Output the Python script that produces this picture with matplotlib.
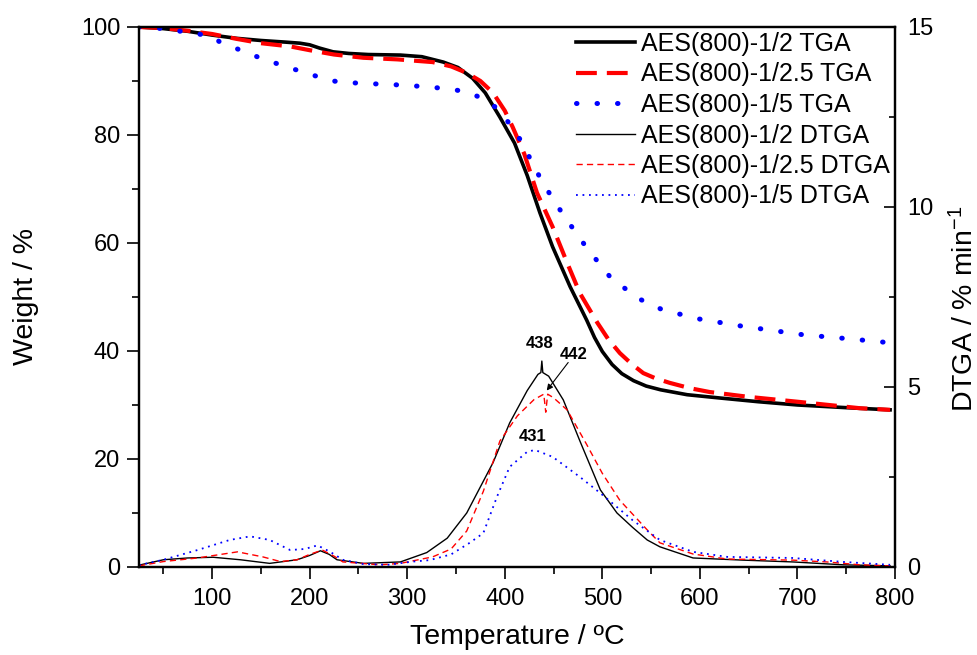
import numpy as np
import matplotlib
matplotlib.use("Agg")
import matplotlib.pyplot as plt

plt.rcParams['font.family'] = ['Liberation Sans', 'DejaVu Sans']
plt.rcParams['mathtext.fontset'] = 'custom'
plt.rcParams['mathtext.rm'] = 'Liberation Sans'
plt.rcParams['mathtext.it'] = 'Liberation Sans:italic'

# TGA curves (weight %, left axis)
t_tga_12 = [25, 50, 75, 100, 125, 150, 175, 190, 200, 210, 224, 240, 260, 293, 315, 337,
            352, 367, 380, 395, 410, 423, 436, 449, 467, 484, 492, 500, 510, 520, 532, 545,
            560, 587, 620, 660, 700, 750, 795]
w_tga_12 = [100, 99.7, 99.2, 98.5, 97.9, 97.5, 97.2, 97.0, 96.7, 96.1, 95.4, 95.1, 94.9,
            94.8, 94.5, 93.5, 92.5, 90.5, 87.8, 83.3, 78.5, 72.5, 65.6, 59.3, 51.9, 45.7,
            42.5, 39.9, 37.5, 35.8, 34.5, 33.5, 32.8, 31.9, 31.3, 30.6, 30.0, 29.5, 29.1]

t_tga_125 = [25, 50, 75, 100, 125, 150, 180, 200, 225, 255, 290, 326, 345, 361, 375, 388,
             400, 408, 420, 433, 449, 464, 477, 495, 506, 518, 530, 542, 555, 569, 590, 610,
             650, 700, 764, 795]
w_tga_125 = [100, 99.8, 99.3, 98.7, 97.8, 97.0, 96.4, 95.7, 94.9, 94.3, 94.0, 93.5, 92.7,
             91.5, 90.0, 87.8, 84.5, 81.5, 76.5, 69.3, 63.0, 56.3, 50.7, 45.2, 42.2, 39.6,
             37.6, 35.9, 34.9, 34.1, 33.1, 32.4, 31.5, 30.6, 29.4, 29.1]

t_tga_15 = [25, 50, 75, 100, 108, 125, 146, 165, 180, 200, 218, 231, 250, 275, 300, 320,
            340, 361, 378, 395, 416, 439, 460, 484, 508, 536, 562, 600, 643, 706, 750, 785, 795]
w_tga_15 = [100, 99.7, 99.0, 98.3, 97.2, 96.0, 94.5, 93.3, 92.4, 91.3, 90.2, 89.8, 89.6,
            89.4, 89.2, 88.9, 88.6, 88.0, 86.7, 84.6, 79.1, 71.1, 65.2, 59.1, 53.7, 49.8,
            47.6, 45.9, 44.6, 43.0, 42.3, 41.7, 41.5]

# DTGA curves (% / min, right axis)
t_dtga_12 = [25, 50, 75, 101, 129, 159, 187, 200, 211, 220, 228, 255, 293, 320, 341, 361,
             388, 405, 423, 434, 437, 438, 439, 445, 460, 477, 498, 515, 531, 546, 559, 593,
             644, 695, 747, 795]
d_dtga_12 = [0.05, 0.2, 0.25, 0.27, 0.2, 0.1, 0.2, 0.32, 0.45, 0.35, 0.2, 0.1, 0.14, 0.4,
             0.8, 1.5, 2.9, 4.0, 4.9, 5.35, 5.4, 5.72, 5.4, 5.3, 4.64, 3.5, 2.14, 1.5, 1.1,
             0.75, 0.56, 0.25, 0.19, 0.14, 0.06, 0.03]

t_dtga_125 = [25, 50, 85, 126, 152, 170, 187, 200, 213, 225, 234, 272, 293, 326, 345, 361,
              378, 395, 413, 430, 440, 442, 444, 450, 464, 484, 500, 518, 546, 559, 593, 628,
              695, 730, 764, 795]
d_dtga_125 = [0.03, 0.15, 0.25, 0.42, 0.28, 0.15, 0.2, 0.35, 0.47, 0.3, 0.14, 0.06, 0.1,
              0.28, 0.5, 1.0, 2.1, 3.5, 4.2, 4.65, 4.8, 4.3, 4.8, 4.7, 4.36, 3.4, 2.6, 1.85,
              1.03, 0.67, 0.36, 0.22, 0.19, 0.14, 0.06, 0.03]

t_dtga_15 = [25, 50, 85, 118, 139, 159, 180, 195, 208, 221, 234, 255, 280, 306, 323, 345,
             364, 378, 392, 405, 423, 431, 449, 477, 498, 531, 559, 593, 628, 695, 747, 795]
d_dtga_15 = [0.05, 0.2, 0.47, 0.75, 0.85, 0.75, 0.47, 0.5, 0.6, 0.42, 0.2, 0.08, 0.06,
             0.15, 0.19, 0.35, 0.67, 0.94, 1.95, 2.78, 3.2, 3.25, 3.06, 2.5, 2.05, 1.3, 0.75,
             0.42, 0.28, 0.25, 0.14, 0.06]

labels = ['AES(800)-1/2 TGA', 'AES(800)-1/2.5 TGA', 'AES(800)-1/5 TGA',
          'AES(800)-1/2 DTGA', 'AES(800)-1/2.5 DTGA', 'AES(800)-1/5 DTGA']

peak_temps = [438, 442, 431]


def plotTGA():
    fig = plt.figure(figsize=(9.78, 6.55), dpi=100)
    ax = fig.add_axes([0.1421, 0.1344, 0.773, 0.8244])
    ax2 = ax.twinx()

    l1, = ax.plot(t_tga_12, w_tga_12, color='black', lw=2.6)
    l2, = ax.plot(t_tga_125, w_tga_125, color='red', lw=3.0, ls=(0, (5, 2.4)))
    l3, = ax.plot(t_tga_15, w_tga_15, color='blue', lw=3.6, ls=(0, (0.1, 4.0)),
                  dash_capstyle='round')

    l4, = ax2.plot(t_dtga_12, d_dtga_12, color='black', lw=1.0)
    l5, = ax2.plot(t_dtga_125, d_dtga_125, color='red', lw=1.0, ls=(0, (4.5, 3)))
    l6, = ax2.plot(t_dtga_15, d_dtga_15, color='blue', lw=1.3, ls=(0, (1, 2.6)))

    ax.set_xlim(25, 800)
    ax.set_ylim(0, 100)
    ax2.set_ylim(0, 15)

    ax.set_xticks(np.arange(100, 801, 100))
    ax.set_xticks(np.arange(50, 801, 50), minor=True)
    ax.set_yticks(np.arange(0, 101, 20))
    ax.set_yticks(np.arange(10, 100, 20), minor=True)
    ax2.set_yticks([0, 5, 10, 15])
    ax2.set_yticks([2.5, 7.5, 12.5], minor=True)

    ax.tick_params(axis='both', which='major', direction='out', length=8.5, width=1.2,
                   labelsize=17, top=False, right=False)
    ax.tick_params(axis='x', which='major', pad=7)
    ax.tick_params(axis='y', which='major', pad=5)
    ax.tick_params(axis='both', which='minor', direction='out', length=5, width=1.2,
                   top=False, right=False)
    ax2.tick_params(axis='y', which='major', direction='in', length=8, width=1.2,
                    labelsize=17, pad=9)
    ax2.tick_params(axis='y', which='minor', direction='in', length=4, width=1.2)

    for a in (ax, ax2):
        for s in a.spines.values():
            s.set_linewidth(1.6)

    ax.set_xlabel('Temperature / ºC', fontsize=20.5, labelpad=10)
    ax.set_ylabel('Weight / %', fontsize=20.5, labelpad=30)
    ax2.set_ylabel('DTGA / % min$^{-1}$', fontsize=20.5)
    ax2.yaxis.set_label_coords(1.073, 0.478)

    # peak labels
    ax2.text(436, 6.2, str(peak_temps[0]), fontsize=12, fontweight='bold',
             ha='center', va='center')
    ax2.text(471, 5.9, str(peak_temps[1]), fontsize=12, fontweight='bold',
             ha='center', va='center')
    ax2.text(429, 3.62, str(peak_temps[2]), fontsize=12, fontweight='bold',
             ha='center', va='center')
    ax2.annotate('', xy=(443, 4.9), xytext=(465, 5.68),
                 arrowprops=dict(arrowstyle='-|>', lw=0.8, color='black',
                                 mutation_scale=9, shrinkA=0, shrinkB=0))

    ax2.legend([l1, l2, l3, l4, l5, l6], labels, loc='upper left',
               bbox_to_anchor=(576 / 978, 1 - 32 / 655),
               bbox_transform=fig.transFigure, frameon=False, fontsize=18,
               handlelength=2.36, handletextpad=0.24, labelspacing=0.26,
               borderpad=0, borderaxespad=0)

    fig.savefig('out.png', dpi=100)


def main():
    plotTGA()


if __name__ == '__main__':
    main()
